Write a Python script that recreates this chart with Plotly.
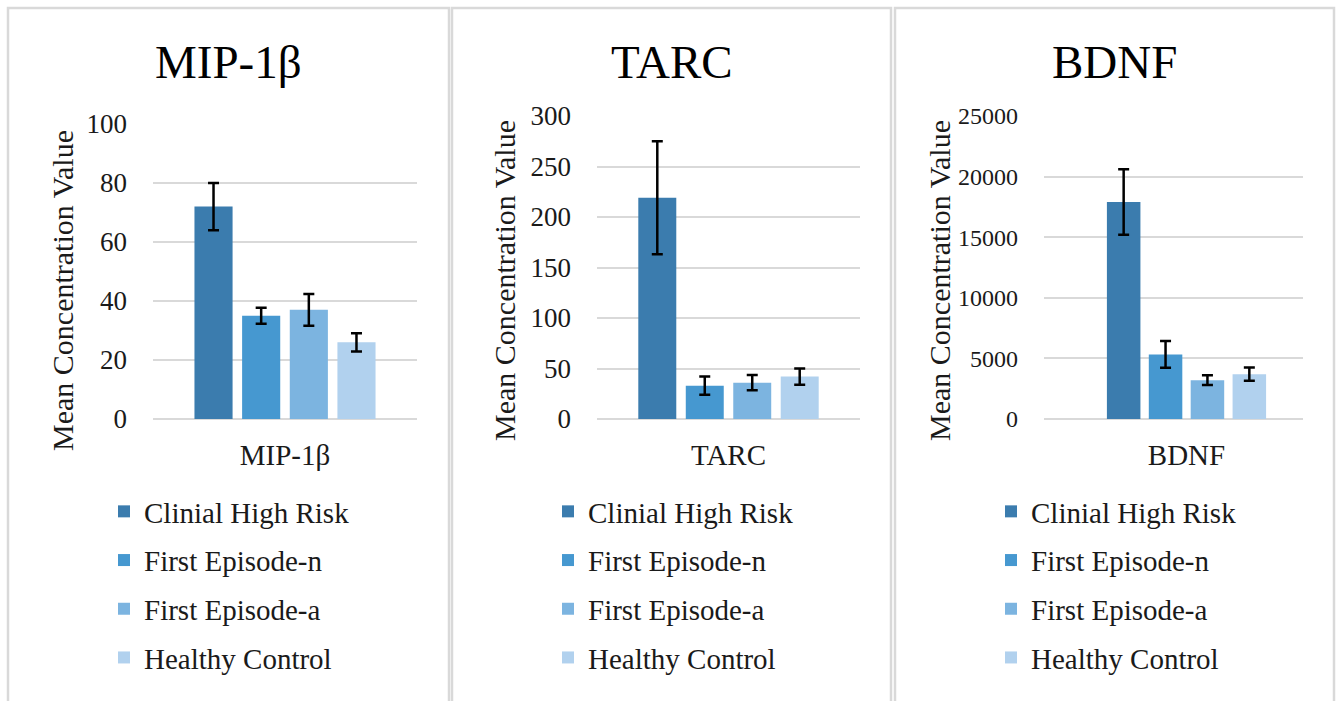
import plotly.graph_objects as go

W, H = 1344, 701

panels = ["MIP-1β", "TARC", "BDNF"]
groups = ["Clinial High Risk", "First Episode-n", "First Episode-a", "Healthy Control"]
colors = ["#3b7cae", "#4698d0", "#7cb4e0", "#b1d1ee"]

mip_means = [72, 35, 37, 26]
mip_errs = [8, 2.7, 5.4, 3.1]
tarc_means = [219, 33, 36, 42]
tarc_errs = [56, 9, 7.5, 8]
bdnf_means = [17900, 5330, 3200, 3700]
bdnf_errs = [2700, 1100, 400, 550]

y_ranges = [[0, 100], [0, 300], [0, 25000]]
y_dticks = [20, 50, 5000]
y_title = "Mean Concentration Value"

means = [mip_means, tarc_means, bdnf_means]
errs = [mip_errs, tarc_errs, bdnf_errs]

def px(x):
    return x / W

def py(y):
    return 1 - y / H

x_domains = [[px(153), px(417)], [px(597), px(860)], [px(1044), px(1303)]]
y_domains = [[py(419), py(124)], [py(419), py(116)], [py(419), py(116)]]
x_ranges = [[-0.5, 0.5], [-0.5, 0.5], [-0.614, 0.502]]
legend_x = [104, 548, 991]
ytitle_pos = [(62, 291), (505, 281), (940, 281)]
ytick_sizes = [27, 27, 24]
panel_edges = [(8, 449), (452, 891), (895, 1334)]

SERIF = "Liberation Serif, Times New Roman, serif"
TXT = "#1a1a1a"
GRID = "#d9d9d9"

fig = go.Figure()
layout = {}
for p, name in enumerate(panels):
    sfx = "" if p == 0 else str(p + 1)
    leg = "legend" + sfx
    for g, gname in enumerate(groups):
        fig.add_trace(go.Bar(
            x=[name], y=[means[p][g]], name=gname,
            marker=dict(color=colors[g], line=dict(width=0)),
            error_y=dict(type="data", array=[errs[p][g]], color="black",
                         thickness=2.5, width=5.5),
            xaxis="x" + sfx, yaxis="y" + sfx,
            legend=leg, legendgroup=f"p{p}g{g}", showlegend=True,
        ))
    layout["xaxis" + sfx] = dict(
        domain=x_domains[p], anchor="y" + sfx, type="category",
        range=x_ranges[p], showgrid=False, zeroline=False,
        showline=False, ticks="", ticklabelstandoff=16,
        tickfont=dict(family=SERIF, size=29, color=TXT),
    )
    layout["yaxis" + sfx] = dict(
        domain=y_domains[p], anchor="x" + sfx, range=y_ranges[p],
        dtick=y_dticks[p], tick0=0, tickformat="d",
        showgrid=True, gridcolor=GRID,
        gridwidth=2, zeroline=True, zerolinecolor=GRID, zerolinewidth=2,
        showline=False, ticks="", ticklabelstandoff=25,
        tickfont=dict(family=SERIF, size=ytick_sizes[p], color=TXT),
    )
    layout[leg] = dict(
        x=px(legend_x[p]), xanchor="left", y=py(486), yanchor="top",
        font=dict(family=SERIF, size=29, color=TXT),
        tracegroupgap=8, bgcolor="rgba(0,0,0,0)",
    )

annotations = []
for p, name in enumerate(panels):
    x0, x1 = panel_edges[p]
    annotations.append(dict(
        text=name, x=px((x0 + x1) / 2), y=py(62), xref="paper", yref="paper",
        xanchor="center", yanchor="middle", showarrow=False,
        font=dict(family=SERIF, size=47, color="black"),
    ))
    tx, ty = ytitle_pos[p]
    annotations.append(dict(
        text=y_title, x=px(tx), y=py(ty), xref="paper", yref="paper",
        xanchor="center", yanchor="middle", textangle=-90, showarrow=False,
        font=dict(family=SERIF, size=30, color=TXT),
    ))

shapes = []
for x0, x1 in panel_edges:
    shapes.append(dict(type="rect", xref="paper", yref="paper",
                       x0=px(x0), x1=px(x1), y0=py(712), y1=py(8),
                       line=dict(color=GRID, width=2.5), layer="below"))

fig.update_layout(
    width=W, height=H, margin=dict(l=0, r=0, t=0, b=0, autoexpand=False),
    paper_bgcolor="white", plot_bgcolor="white",
    barmode="group", bargap=0.278, bargroupgap=0.2,
    annotations=annotations, shapes=shapes, **layout,
)

fig.write_html("out.html", config={"displayModeBar": False},
               post_script="document.body.style.margin='0';")
